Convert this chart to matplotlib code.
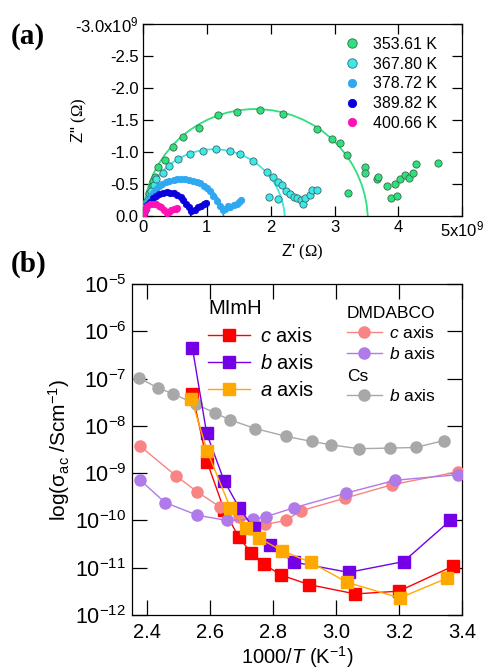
import numpy as np
import matplotlib
matplotlib.use('Agg')
import matplotlib.pyplot as plt
from matplotlib.patches import Circle
from matplotlib.ticker import FixedLocator, FixedFormatter, NullLocator

plt.rcParams['font.family'] = ['Liberation Sans', 'DejaVu Sans']
plt.rcParams['mathtext.fontset'] = 'custom'
plt.rcParams['mathtext.rm'] = 'Liberation Sans'
plt.rcParams['mathtext.it'] = 'Liberation Sans:italic'
plt.rcParams['mathtext.sf'] = 'Liberation Serif'

# (a) impedance plots, Z' and -Z'' in units of 1e9 Ohm
temps = ['353.61 K', '367.80 K', '378.72 K', '389.82 K', '400.66 K']
colors_a = ['#2ee07e', '#3ee8e8', '#2ea8f0', '#0a00dc', '#ff12b4']

zre_353 = [0.02, 0.05, 0.10, 0.14, 0.16, 0.19, 0.23, 0.35, 0.47, 0.63, 0.88, 1.17, 1.48, 1.84,
           2.20, 2.73, 2.96, 3.09, 3.20, 3.21, 3.48, 3.48, 3.66, 3.68, 3.82, 3.89, 3.98, 3.95,
           4.02, 4.10, 4.16, 4.23, 4.27, 4.62]
zim_353 = [0.08, 0.22, 0.35, 0.46, 0.54, 0.61, 0.76, 0.88, 1.07, 1.23, 1.38, 1.58, 1.63, 1.65,
           1.59, 1.36, 1.20, 1.14, 0.95, 0.36, 0.77, 0.67, 0.57, 0.61, 0.47, 0.27, 0.31, 0.49,
           0.58, 0.63, 0.59, 0.67, 0.81, 0.82]

zre_367 = [0.02, 0.04, 0.08, 0.13, 0.17, 0.21, 0.31, 0.40, 0.55, 0.74, 0.94, 1.14, 1.37, 1.52,
           1.72, 1.94, 2.03, 2.11, 2.18, 1.98, 2.11, 2.24, 2.31, 2.36, 2.42, 2.48, 2.50, 2.54,
           2.62, 2.64, 2.73]
zim_367 = [0.06, 0.15, 0.25, 0.38, 0.48, 0.57, 0.67, 0.78, 0.89, 0.97, 1.02, 1.04, 1.02, 0.96,
           0.86, 0.69, 0.60, 0.53, 0.48, 0.30, 0.26, 0.38, 0.34, 0.30, 0.27, 0.25, 0.19, 0.28,
           0.32, 0.40, 0.40]

zre_378 = [0.02, 0.04, 0.06, 0.09, 0.13, 0.16, 0.20, 0.25, 0.30, 0.36, 0.41, 0.48, 0.54, 0.60,
           0.66, 0.72, 0.78, 0.84, 0.89, 0.95, 1.00, 1.05, 1.10, 1.16, 1.21, 1.25, 1.29, 1.33,
           1.37, 1.42, 1.47, 1.51, 1.53]
zim_378 = [0.04, 0.12, 0.19, 0.25, 0.31, 0.36, 0.42, 0.46, 0.49, 0.53, 0.55, 0.56, 0.57, 0.57,
           0.57, 0.56, 0.55, 0.53, 0.51, 0.47, 0.43, 0.38, 0.31, 0.23, 0.16, 0.09, 0.10, 0.15,
           0.13, 0.17, 0.18, 0.22, 0.25]

zre_389 = [0.01, 0.02, 0.04, 0.07, 0.11, 0.15, 0.20, 0.25, 0.31, 0.37, 0.42, 0.48, 0.53, 0.59,
           0.63, 0.67, 0.72, 0.76, 0.82, 0.86, 0.91, 0.96, 0.99]
zim_389 = [0.01, 0.04, 0.10, 0.17, 0.22, 0.27, 0.31, 0.34, 0.36, 0.37, 0.36, 0.35, 0.32, 0.29,
           0.24, 0.19, 0.13, 0.08, 0.09, 0.13, 0.15, 0.18, 0.20]

zre_400 = [0.00, 0.02, 0.04, 0.07, 0.11, 0.16, 0.20, 0.25, 0.29, 0.33, 0.37, 0.41, 0.44, 0.48,
           0.52, 0.54]
zim_400 = [0.00, 0.05, 0.10, 0.15, 0.18, 0.19, 0.18, 0.16, 0.13, 0.09, 0.05, 0.06, 0.09, 0.10,
           0.11, 0.12]

# fitted arcs: low-frequency intercept and arc height (1e9 Ohm)
fit_intercept = [3.52, 2.22, 1.26, 0.75, 0.37]
fit_peak = [1.67, 1.04, 0.58, 0.36, 0.18]

# (b) conductivity vs 1000/T
x_mimh_c = [2.545, 2.592, 2.645, 2.692, 2.731, 2.771, 2.826, 2.915, 3.061, 3.199, 3.372]
y_mimh_c = [4.7e-8, 1.7e-9, 1.7e-10, 4.4e-11, 2.1e-11, 1.2e-11, 7.0e-12, 4.4e-12, 2.8e-12, 3.2e-12, 1.09e-11]
x_mimh_b = [2.545, 2.590, 2.645, 2.693, 2.740, 2.791, 2.866, 3.040, 3.214, 3.362]
y_mimh_b = [4.4e-7, 7.0e-9, 7.0e-10, 1.86e-10, 6.8e-11, 3.0e-11, 1.32e-11, 8.0e-12, 1.35e-11, 1.0e-10]
x_mimh_a = [2.542, 2.592, 2.665, 2.714, 2.755, 2.828, 2.920, 3.036, 3.202, 3.351]
y_mimh_a = [3.7e-8, 2.9e-9, 1.86e-10, 7.0e-11, 4.3e-11, 2.3e-11, 1.3e-11, 4.9e-12, 2.3e-12, 6.0e-12]

x_dmd_c = [2.380, 2.492, 2.561, 2.632, 2.692, 2.776, 2.841, 2.888, 3.027, 3.177, 3.386]
y_dmd_c = [3.7e-9, 8.9e-10, 4.0e-10, 1.94e-10, 1.2e-10, 8.3e-11, 1.0e-10, 1.6e-10, 2.95e-10, 5.7e-10, 1.07e-9]
x_dmd_b = [2.380, 2.458, 2.561, 2.655, 2.738, 2.777, 2.867, 3.032, 3.188, 3.386]
y_dmd_b = [7.1e-10, 2.4e-10, 1.29e-10, 1.0e-10, 1.06e-10, 1.2e-10, 1.86e-10, 3.8e-10, 7.1e-10, 9.3e-10]

x_cs_b = [2.375, 2.435, 2.483, 2.555, 2.615, 2.663, 2.744, 2.843, 2.923, 2.983, 3.072, 3.171, 3.252, 3.342]
y_cs_b = [1.04e-7, 6.4e-8, 4.8e-8, 2.9e-8, 1.9e-8, 1.35e-8, 8.8e-9, 6.0e-9, 4.7e-9, 4.0e-9, 3.3e-9, 3.4e-9, 3.5e-9, 4.9e-9]

fig = plt.figure(figsize=(4.83, 6.70), dpi=100)

# ---------------- (a) ----------------
ax1 = fig.add_axes([0.296, 0.678, 0.661, 0.286])
series_a = [(zre_353, zim_353), (zre_367, zim_367), (zre_378, zim_378),
            (zre_389, zim_389), (zre_400, zim_400)]
edges = ['#3a6a4a', '#3a6a6a', None, None, None]
for i, (xs, ys) in enumerate(series_a):
    # fit arc (circle centre slightly below the real axis)
    half = fit_intercept[i] / 2
    c = (half ** 2 - fit_peak[i] ** 2) / (2 * fit_peak[i])
    r = fit_peak[i] + c
    circ = Circle((half, c), r, fill=False, color=colors_a[i], lw=1.3, zorder=2)
    ax1.add_patch(circ)
for i, (xs, ys) in enumerate(series_a):
    ec = edges[i] if edges[i] else colors_a[i]
    ax1.plot(xs, [-v for v in ys], 'o', ms=5.2 if i < 2 else 4.6, mfc=colors_a[i],
             mec=ec, mew=0.6, ls='none', zorder=3 + i, label=temps[i])

ax1.set_xlim(0, 5)
ax1.set_ylim(0, -3)
ax1.xaxis.set_major_locator(FixedLocator([0, 1, 2, 3, 4, 5]))
ax1.xaxis.set_major_formatter(FixedFormatter(['0', '1', '2', '3', '4', '5x10$^{9}$']))
ax1.yaxis.set_major_locator(FixedLocator([0, -0.5, -1.0, -1.5, -2.0, -2.5, -3.0]))
ax1.yaxis.set_major_formatter(FixedFormatter(['0.0', '-0.5', '-1.0', '-1.5', '-2.0', '-2.5',
                                              '-3.0x10$^{9}$']))
ax1.tick_params(direction='in', length=7, width=0.9, top=True, right=True,
                labelsize=12, pad=3)
for s in ax1.spines.values():
    s.set_linewidth(0.9)
ax1.set_xlabel("Z' $\\mathsf{(\\Omega)}$", fontsize=12, labelpad=2)
ax1.set_ylabel('Z" $\\mathsf{(\\Omega)}$', fontsize=12)
ax1.yaxis.set_label_coords(-0.17, 0.5)
leg_a = ax1.legend(loc='upper left', bbox_to_anchor=(0.61, 0.975), frameon=False,
                   fontsize=11.5, handlelength=0.8, handletextpad=0.9, labelspacing=0.3,
                   markerscale=1.3, borderpad=0)
fig.text(0.022, 0.945, '(a)', fontsize=21, fontweight='bold', family='Liberation Serif',
         va='center', ha='left')

# ---------------- (b) ----------------
ax2 = fig.add_axes([0.273, 0.082, 0.684, 0.494])
ax2.set_yscale('log')

h_dc, = ax2.plot(x_dmd_c, y_dmd_c, 'o-', color='#f88484', ms=8, lw=1, zorder=3)
h_db, = ax2.plot(x_dmd_b, y_dmd_b, 'o-', color='#b07ae8', ms=8, lw=1, zorder=3)
h_cs, = ax2.plot(x_cs_b, y_cs_b, 'o-', color='#a8a8a8', ms=8, lw=1, zorder=3)
h_mc, = ax2.plot(x_mimh_c, y_mimh_c, 's-', color='#ff0000', ms=8.5, lw=1, zorder=2)
h_mb, = ax2.plot(x_mimh_b, y_mimh_b, 's-', color='#7400e6', ms=8.5, lw=1, zorder=4)
h_ma, = ax2.plot(x_mimh_a, y_mimh_a, 's-', color='#ffa800', ms=8.5, lw=1, zorder=5)

ax2.set_xlim(2.353, 3.4)
ax2.set_ylim(1e-12, 1e-5)
ax2.xaxis.set_major_locator(FixedLocator([2.4, 2.6, 2.8, 3.0, 3.2, 3.4]))
ax2.xaxis.set_major_formatter(FixedFormatter(['2.4', '2.6', '2.8', '3.0', '3.2', '3.4']))
ax2.yaxis.set_major_locator(FixedLocator([1e-12, 1e-11, 1e-10, 1e-9, 1e-8, 1e-7, 1e-6, 1e-5]))
ax2.yaxis.set_minor_locator(NullLocator())
ax2.tick_params(direction='in', length=10.5, width=0.9, top=True, right=True, pad=4)
ax2.tick_params(axis='x', labelsize=14.5, pad=6)
ax2.tick_params(axis='y', labelsize=15.5)
for s in ax2.spines.values():
    s.set_linewidth(0.9)
ax2.set_xlabel('1000/$T$ (K$^{-1}$)', fontsize=14.5, labelpad=1)
ax2.set_ylabel('log(σ$_{\\mathrm{ac}}$ /Scm$^{-1}$)', fontsize=15, labelpad=2)

leg1 = ax2.legend([h_mc, h_mb, h_ma], ['$c$ axis', '$b$ axis', '$a$ axis'],
                  title='MImH', title_fontsize=14.5, fontsize=14.5, loc='upper left',
                  bbox_to_anchor=(0.2, 0.985), frameon=False, alignment='left',
                  handlelength=2.1, handletextpad=0.5, labelspacing=0.42, borderpad=0)
ax2.add_artist(leg1)
leg2 = ax2.legend([h_dc, h_db], ['$c$ axis', '$b$ axis'],
                  title='DMDABCO', title_fontsize=12.5, fontsize=12.5, loc='upper left',
                  bbox_to_anchor=(0.625, 0.96), frameon=False, alignment='left',
                  handlelength=2.0, handletextpad=0.4, labelspacing=0.25, borderpad=0)
ax2.add_artist(leg2)
leg3 = ax2.legend([h_cs], ['$b$ axis'],
                  title='Cs', title_fontsize=12.5, fontsize=12.5, loc='upper left',
                  bbox_to_anchor=(0.625, 0.77), frameon=False, alignment='left',
                  handlelength=2.0, handletextpad=0.4, labelspacing=0.25, borderpad=0)

fig.text(0.022, 0.605, '(b)', fontsize=21, fontweight='bold', family='Liberation Serif',
         va='center', ha='left')

fig.savefig('out.png', dpi=100)
